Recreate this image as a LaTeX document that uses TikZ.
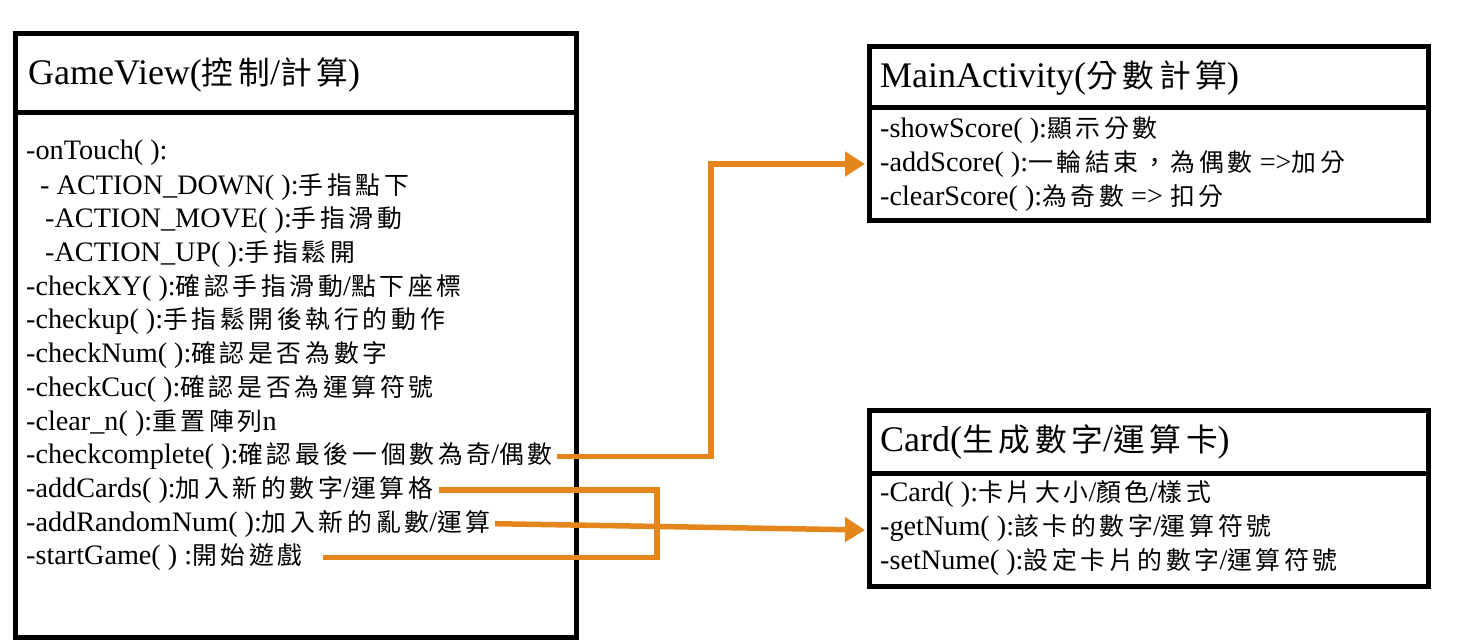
\documentclass[tikz,border=0pt]{standalone}
\usepackage{fontspec}
\setmainfont{Liberation Serif}
\newfontfamily\cjk[Scale=0.88,LetterSpace=15]{Noto Sans CJK TC}
\newcommand\zh[1]{{\cjk #1}}
\usetikzlibrary{arrows.meta}
\definecolor{conn}{RGB}{229,134,29}
\begin{document}
\begin{tikzpicture}[x=1pt,y=-1pt,
  box/.style={draw=black, line width=5pt, inner sep=0pt, anchor=north west},
  ttl/.style={anchor=west, inner sep=0pt, font=\fontsize{36}{42}\selectfont},
  itm/.style={anchor=west, inner sep=0pt, font=\fontsize{28.2}{33}\selectfont},
  wire/.style={draw=conn, line width=5.5pt},
  arr/.style={wire, -{Triangle[length=20pt,width=24pt]}}]
\useasboundingbox[fill=white] (0,0) rectangle (1462,643);

% GameView
\node[box, minimum width=561pt, minimum height=79pt] (gvh) at (13,31) {};
\node[box, minimum width=561pt, minimum height=525pt] (gvb) at (13,110) {};
\node[ttl] (gvt) at (28,75) {GameView(\zh{控制}/\zh{計算})};
\node[itm] (l1) at (26,153.0) {-onTouch( ):};
\node[itm] (l2) at (40,186.7) {- ACTION\_DOWN( ):\zh{手指點下}};
\node[itm] (l3) at (45,220.4) {-ACTION\_MOVE( ):\zh{手指滑動}};
\node[itm] (l4) at (45,254.1) {-ACTION\_UP( ):\zh{手指鬆開}};
\node[itm] (l5) at (26,287.8) {-checkXY( ):\zh{確認手指滑動}/\zh{點下座標}};
\node[itm] (l6) at (26,321.5) {-checkup( ):\zh{手指鬆開後執行的動作}};
\node[itm] (l7) at (26,355.2) {-checkNum( ):\zh{確認是否為數字}};
\node[itm] (l8) at (26,388.9) {-checkCuc( ):\zh{確認是否為運算符號}};
\node[itm] (l9) at (26,422.6) {-clear\_n( ):\zh{重置陣列}n};
\node[itm] (l10) at (26,456.3) {-checkcomplete( ):\zh{確認最後一個數為奇}/\zh{偶數}};
\node[itm] (l11) at (26,490.0) {-addCards( ):\zh{加入新的數字}/\zh{運算格}};
\node[itm] (l12) at (26,523.7) {-addRandomNum( ):\zh{加入新的亂數}/\zh{運算}};
\node[itm] (l13) at (26,557.4) {-startGame( ) :\zh{開始遊戲}};

% MainActivity
\node[box, minimum width=559pt, minimum height=61pt] (mah) at (867,44) {};
\node[box, minimum width=559pt, minimum height=113pt] (mab) at (867,105) {};
\node[ttl] (mat) at (880,78) {MainActivity(\zh{分數計算})};
\node[itm] (m1) at (880,130) {-showScore( ):\zh{顯示分數}};
\node[itm] (m2) at (880,164) {-addScore( ):\zh{一輪結束，為偶數} =>\zh{加分}};
\node[itm] (m3) at (880,198) {-clearScore( ):\zh{為奇數} => \zh{扣分}};

% Card
\node[box, minimum width=559pt, minimum height=63pt] (ch) at (867,408) {};
\node[box, minimum width=559pt, minimum height=113pt] (cb) at (867,471) {};
\node[ttl] (ct) at (880,442) {Card(\zh{生成數字}/\zh{運算卡})};
\node[itm] (c1) at (880,494) {-Card( ):\zh{卡片大小}/\zh{顏色}/\zh{樣式}};
\node[itm] (c2) at (880,528) {-getNum( ):\zh{該卡的數字}/\zh{運算符號}};
\node[itm] (c3) at (880,562) {-setNume( ):\zh{設定卡片的數字}/\zh{運算符號}};

% connectors
\coordinate (j1) at (711,0);
\coordinate (j2) at (657,0);
\draw[arr] ([xshift=4pt]l10.east) -| (j1 |- mab.west) -- ([xshift=-2pt]mab.west);
\draw[arr] ([xshift=4pt]l12.east) -- ([xshift=-2pt]cb.west);
\draw[wire] ([xshift=6pt]l11.east) -| (j2 |- l13.east) -- ([xshift=20pt]l13.east);
\end{tikzpicture}
\end{document}
